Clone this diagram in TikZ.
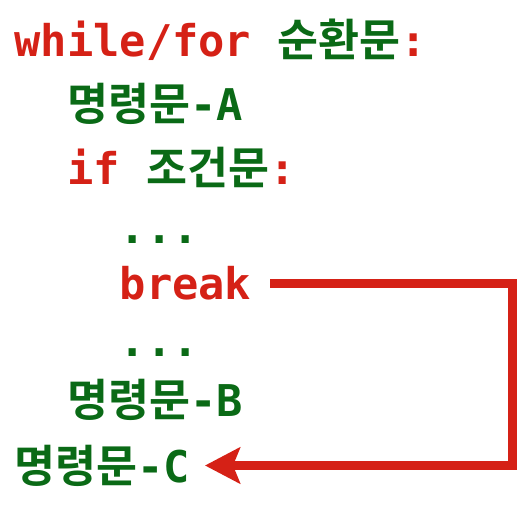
\documentclass[tikz,border=0pt]{standalone}
\usepackage{fontspec}
\setmonofont{DejaVu Sans Mono}
\newfontfamily\krfont{Noto Sans CJK KR}[Scale=1.02,BoldFont={* Bold}]
\usetikzlibrary{arrows.meta}
\definecolor{kwred}{RGB}{213,33,22}
\definecolor{txgreen}{RGB}{10,106,22}
\newcommand{\kr}[1]{{\krfont\bfseries #1}}
\begin{document}
\begin{tikzpicture}[x=1pt,y=1pt,
  codeline/.style={anchor=base west,inner sep=0pt,outer sep=0pt,
    font=\fontsize{43.7pt}{50pt}\selectfont\ttfamily\bfseries},
  red/.style={text=kwred},
  green/.style={text=txgreen},
  jump/.style={draw=kwred,line width=9pt,line cap=butt,line join=miter,
    -{Stealth[length=35pt,width=36pt,inset=7pt]}}]
\useasboundingbox (0,0) rectangle (526,506);
\def\cw{26.3}
\node[codeline,red] (l1) at (14.5,449.3) {while/for \textcolor{txgreen}{\kr{순환문}}:};
\node[codeline,green] (l2) at (14.5+2*\cw,385.5) {\kr{명령문}-A};
\node[codeline,red] (l3) at (14.5+2*\cw,321) {if \textcolor{txgreen}{\kr{조건문}}:};
\node[codeline,green] (l4) at (14.5+4*\cw,262.5) {...};
\node[codeline,red] (brk) at (14.5+4*\cw,207) {break};
\node[codeline,green] (l6) at (14.5+4*\cw,150) {...};
\node[codeline,green] (l7) at (14.5+2*\cw,89.3) {\kr{명령문}-B};
\node[codeline,green] (l8) at (14.5,24) {\kr{명령문}-C};
\coordinate (bs) at (270,222.5);
\coordinate (c1) at (512.5,222.5);
\coordinate (c2) at (512.5,40.5);
\coordinate (ce) at (205,40.5);
\draw[jump] (bs) -- (c1) -- (c2) -- (ce);
\end{tikzpicture}
\end{document}
